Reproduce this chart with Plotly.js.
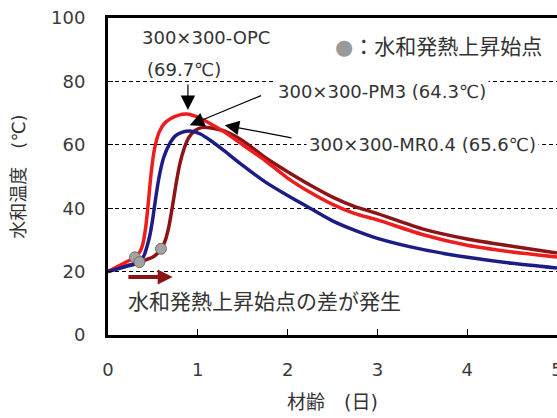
<!DOCTYPE html>
<html>
<head>
<meta charset="utf-8">
<script src="https://cdn.plot.ly/plotly-3.0.1.min.js"></script>
<style>html,body{margin:0;padding:0;background:#fff;}#chart{width:557px;height:418px;}</style>
</head>
<body>
<div id="chart"></div>
<script>
// ---- data ----
const opcAge  = [0, 0.1, 0.2, 0.3, 0.36, 0.39, 0.42, 0.45, 0.48, 0.52, 0.57, 0.63, 0.7, 0.78, 0.88, 1.0, 1.15, 1.3, 1.5, 1.75, 2.0, 2.25, 2.5, 2.75, 3.0, 3.5, 4.0, 4.5, 5.0];
const opcTemp = [20, 21.5, 23, 24.5, 26.5, 29, 34, 42, 51, 59, 64, 66.8, 68.3, 69.3, 69.7, 68.7, 66.5, 64, 60, 55, 49.5, 45, 41.2, 38.3, 36.3, 31.7, 28.3, 26.2, 24.6];

const pm3Age  = [0, 0.1, 0.2, 0.3, 0.35, 0.4, 0.44, 0.47, 0.5, 0.53, 0.57, 0.62, 0.68, 0.75, 0.83, 0.93, 1.03, 1.15, 1.3, 1.5, 1.75, 2.0, 2.25, 2.5, 2.75, 3.0, 3.5, 4.0, 4.5, 5.0];
const pm3Temp = [20, 20.8, 21.6, 22.4, 23, 25, 28.5, 32, 37, 43, 50, 56, 60, 62.8, 64, 64.3, 63.4, 61.2, 58, 53.5, 48.3, 44, 40, 36, 33, 30.5, 27, 24.5, 22.6, 21.1];

const mrAge   = [0, 0.1, 0.2, 0.3, 0.4, 0.5, 0.56, 0.6, 0.64, 0.68, 0.72, 0.76, 0.8, 0.85, 0.9, 0.97, 1.05, 1.15, 1.3, 1.5, 1.75, 2.0, 2.25, 2.5, 2.75, 3.0, 3.5, 4.0, 4.5, 5.0];
const mrTemp  = [20, 21, 21.8, 22.6, 23.5, 24.6, 26, 27.5, 30, 34.5, 41, 48, 54, 59, 62.3, 64.5, 65.5, 65.3, 64.3, 61.3, 56, 51.5, 47.3, 43.5, 40.5, 38.3, 33.5, 30.3, 28, 25.9];

// onset of hydration heat rise (OPC, PM3, MR0.4)
const onsetAge  = [0.30, 0.35, 0.59];
const onsetTemp = [24.5, 23.0, 27.2];

const xTicks = [0, 1, 2, 3, 4, 5];
const yTicks = [0, 20, 40, 60, 80, 100];

const labelOPC = '300×300-OPC';
const peakOPC = '(69.7℃)';
const labelPM3 = '300×300-PM3 (64.3℃)';
const labelMR = '300×300-MR0.4 (65.6℃)';
const legendText = '：水和発熱上昇始点';
const noteText = '水和発熱上昇始点の差が発生';

// ---- chart ----
const FONT = 'DejaVu Sans, Noto Sans CJK JP, sans-serif';
const TXT = '#333333';

const traces = [
  {x: mrAge, y: mrTemp, mode: 'lines', line: {color: '#8c1414', width: 3.5, shape: 'spline', smoothing: 0.6}, hoverinfo: 'skip'},
  {x: opcAge, y: opcTemp, mode: 'lines', line: {color: '#ee1c1c', width: 3.5, shape: 'spline', smoothing: 0.6}, hoverinfo: 'skip'},
  {x: pm3Age, y: pm3Temp, mode: 'lines', line: {color: '#1c1c86', width: 3.5, shape: 'spline', smoothing: 0.6}, hoverinfo: 'skip'},
  {x: onsetAge, y: onsetTemp, mode: 'markers', marker: {size: 11, color: '#a3a3a3', line: {color: '#6e6e6e', width: 1}}, hoverinfo: 'skip'}
];

function arrow(x, y, ax, ay, opts) {
  return Object.assign({x: x, y: y, ax: ax, ay: ay, xref: 'x', yref: 'y', axref: 'x', ayref: 'y',
    text: '', showarrow: true, arrowhead: 2, arrowsize: 2.4, arrowwidth: 1.2, arrowcolor: '#000', standoff: 0, startstandoff: 0}, opts || {});
}
function label(x, y, text, size, opts) {
  return Object.assign({x: x, y: y, xref: 'x', yref: 'y', text: text, showarrow: false, xanchor: 'left', yanchor: 'middle',
    font: {family: FONT, size: size, color: TXT}}, opts || {});
}

const annotations = [
  arrow(0.89, 71, 0.89, 79.5),
  arrow(0.91, 66.2, 1.72, 75.7),
  arrow(1.30, 66.2, 2.06, 62.1),
  arrow(0.72, 18.3, 0.21, 18.3, {arrowwidth: 4, arrowsize: 0.75, arrowcolor: '#8c1414'}),
  label(0.356, 93.7, labelOPC, 18),
  label(0.41, 83.6, peakOPC, 18),
  label(1.86, 76.7, labelPM3, 18, {bgcolor: '#ffffff', borderpad: 2}),
  label(2.21, 60, labelMR, 18, {bgcolor: '#ffffff', borderpad: 2}),
  label(2.51, 90.9, '<span style="color:#9a9a9a">●</span>' + legendText, 21),
  label(0.20, 10.4, noteText, 21)
];

const layout = {
  width: 557, height: 418,
  margin: {l: 108, r: 0, t: 18, b: 83},
  paper_bgcolor: '#ffffff', plot_bgcolor: '#ffffff',
  showlegend: false,
  font: {family: FONT, color: TXT},
  xaxis: {
    range: [0, 5], tickvals: xTicks, ticktext: xTicks.map(String),
    showgrid: false, zeroline: false,
    showline: true, linecolor: '#000', linewidth: 3, mirror: true,
    ticks: 'inside', ticklen: 6, tickwidth: 1, tickcolor: '#000',
    tickfont: {family: FONT, size: 18, color: '#3a3a3a'}, ticklabelstandoff: 16,
    ticklabeloverflow: 'allow',
    title: {text: '材齢　(日)', font: {family: FONT, size: 19, color: TXT}, standoff: 18}
  },
  yaxis: {
    range: [0, 100], tickvals: yTicks, ticktext: yTicks.map(String),
    showgrid: true, gridcolor: '#000', gridwidth: 1, griddash: '4px,3px',
    zeroline: false,
    showline: true, linecolor: '#000', linewidth: 3, mirror: true,
    ticks: 'inside', ticklen: 5, tickwidth: 1, tickcolor: '#000',
    tickfont: {family: FONT, size: 18, color: '#3a3a3a'}, ticklabelstandoff: 16,
    title: {text: '水和温度　(℃)', font: {family: FONT, size: 18, color: TXT}, standoff: 21}
  },
  annotations: annotations
};

Plotly.newPlot('chart', traces, layout, {staticPlot: true, displayModeBar: false});
</script>
</body>
</html>
